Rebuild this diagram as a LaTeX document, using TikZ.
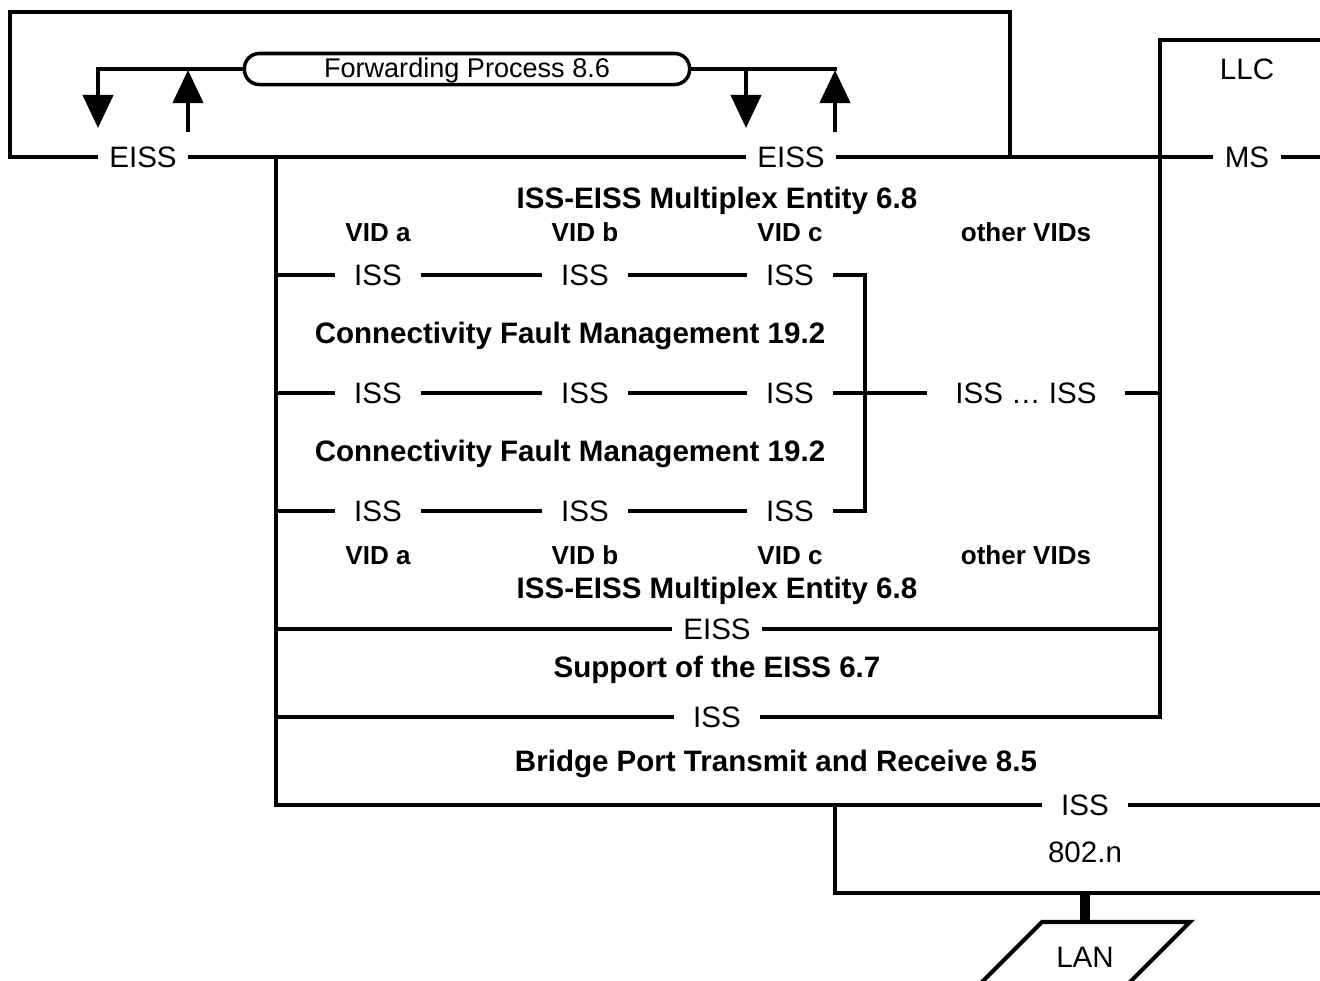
\documentclass[tikz,border=0pt]{standalone}
\usepackage{fontspec}
\setmainfont{Liberation Sans}
\usetikzlibrary{arrows.meta}
\tikzset{>={Triangle[length=3.3mm, width=3mm]}}
\tikzset{
  wire/.style={line width=1.2pt, line cap=rect},
  lbl/.style={inner xsep=2.1mm, inner ysep=0pt, font=\fontsize{8.4}{10}\selectfont},
  elbl/.style={lbl, inner xsep=1.3mm},
  ttl/.style={yshift=-1pt, font=\fontsize{8.4}{10}\selectfont\bfseries},
  vidl/.style={ttl, font=\fontsize{7.4}{9}\selectfont\bfseries},
}

\begin{document}
\begin{tikzpicture}[x=.01cm, y=-.01cm]
    \useasboundingbox(0, 0)rectangle(1320, 981);
    \clip(0, 0)rectangle(1320, 981);
    % labels on the lines
    \node[elbl](eissl) at(143, 157){EISS};
    \node[elbl](eissr) at(791, 157){EISS};
    \node[elbl](ms) at(1247, 157){MS};
    \node[lbl](llc) at(1247, 69){LLC};
    \node[lbl](iss11) at(378, 275){ISS};
    \node[lbl](iss12) at(585, 275){ISS};
    \node[lbl](iss13) at(790, 275){ISS};
    \node[lbl](iss21) at(378, 393){ISS};
    \node[lbl](iss22) at(585, 393){ISS};
    \node[lbl](iss23) at(790, 393){ISS};
    \node[lbl, inner xsep=3mm](issoth) at(1026, 393){ISS \dots\ ISS};
    \node[lbl](iss31) at(378, 511){ISS};
    \node[lbl](iss32) at(585, 511){ISS};
    \node[lbl](iss33) at(790, 511){ISS};
    \node[elbl](eissb) at(717, 629){EISS};
    \node[lbl](issb) at(717, 717){ISS};
    \node[lbl](issn) at(1085, 805){ISS};
    \node[lbl](dot) at(1085, 852){802.n};
    \node[lbl](lan) at(1085, 957){LAN};
    % entity titles
    \node[ttl](muxt) at(717, 197){ISS-EISS Multiplex Entity 6.8};
    \node[vidl](vida) at(378, 229){VID a};
    \node[vidl](vidb) at(585, 229){VID b};
    \node[vidl](vidc) at(790, 229){VID c};
    \node[vidl](vido) at(1026, 229){other VIDs};
    \node[ttl](cfma) at(570, 332){Connectivity Fault Management 19.2};
    \node[ttl](cfmb) at(570, 450){Connectivity Fault Management 19.2};
    \node[vidl](vida2) at(378, 552){VID a};
    \node[vidl](vidb2) at(585, 552){VID b};
    \node[vidl](vidc2) at(790, 552){VID c};
    \node[vidl](vido2) at(1026, 552){other VIDs};
    \node[ttl](muxb) at(717, 587){ISS-EISS Multiplex Entity 6.8};
    \node[ttl](supp) at(717, 666){Support of the EISS 6.7};
    \node[ttl](bprt) at(776, 760){Bridge Port Transmit and Receive 8.5};
    % forwarding process
    \node[draw, line width=1pt, rounded corners=.15cm, minimum width=4.45cm, minimum height=.31cm, inner ysep=0pt,
        text height=6.8pt, text depth=1.9pt, font=\fontsize{7.7}{9}\selectfont](fwd) at(467, 69){Forwarding Process 8.6};
    \draw[wire, ->](fwd.west)--(98, 69)--(98, 128);
    \draw[wire, ->](188, 130)--(188, 70);
    \draw[wire](fwd.east)--(835, 69);
    \draw[wire, ->](746, 69)--(746, 128);
    \draw[wire, ->](835, 130)--(835, 70);
    % frames
    \draw[wire](eissl)--(10, 157)--(10, 12)--(1010, 12)--(1010, 157);
    \draw[wire](eissl)--(eissr)--(ms)--(1330, 157);
    \draw[wire](1330, 40)--(1160, 40)--(1160, 717);
    \draw[wire](276, 157)--(276, 805)--(issn)--(1330, 805);
    % ISS rows
    \draw[wire](276, 275)--(iss11)--(iss12)--(iss13)--(865, 275)--(865, 511)--(iss33);
    \draw[wire](276, 393)--(iss21)--(iss22)--(iss23)--(issoth)--(1160, 393);
    \draw[wire](276, 511)--(iss31)--(iss32)--(iss33);
    \draw[wire](276, 629)--(eissb)--(1160, 629);
    \draw[wire](276, 717)--(issb)--(1160, 717);
    % 802.n and LAN
    \draw[wire](835, 805)--(835, 893)--(1330, 893);
    \draw[line width=2.8pt](1085, 893)--(1085, 922);
    \draw[wire, line cap=butt](1042, 922)--(1190, 922)--(1117, 995)--(969, 995)--cycle;
\end{tikzpicture}
\end{document}
